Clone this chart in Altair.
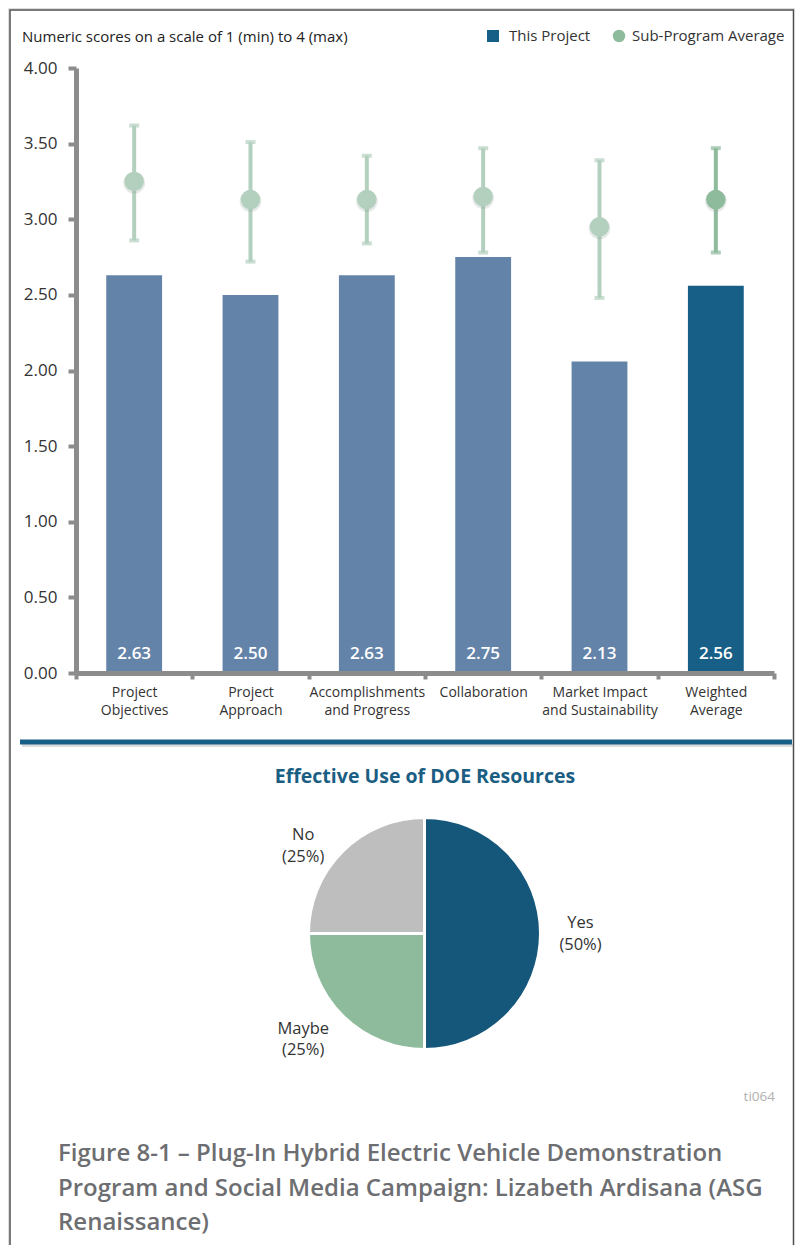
import json
import math
import altair as alt
import pandas as pd

# ---------------- data ----------------
categories = ["Project Objectives", "Project Approach", "Accomplishments and Progress",
              "Collaboration", "Market Impact and Sustainability", "Weighted Average"]
category_tick_labels = [["Project", "Objectives"], ["Project", "Approach"],
                        ["Accomplishments", "and Progress"], ["Collaboration"],
                        ["Market Impact", "and Sustainability"], ["Weighted", "Average"]]
project_scores = [2.63, 2.50, 2.63, 2.75, 2.06, 2.56]
project_score_labels = ["2.63", "2.50", "2.63", "2.75", "2.13", "2.56"]
subprogram_avg = [3.25, 3.13, 3.13, 3.15, 2.95, 3.13]
subprogram_high = [3.62, 3.51, 3.42, 3.47, 3.39, 3.47]
subprogram_low = [2.86, 2.72, 2.84, 2.78, 2.48, 2.78]
y_tick_values = [0, 0.5, 1, 1.5, 2, 2.5, 3, 3.5, 4]

pie_answers = ["Yes", "Maybe", "No"]
pie_shares = [50, 25, 25]

legend_labels = ["This Project", "Sub-Program Average"]
chart_title = "Numeric scores on a scale of 1 (min) to 4 (max)"
pie_title = "Effective Use of DOE Resources"
code_label = "ti064"
caption_lines = ["Figure 8-1 \u2013 Plug-In Hybrid Electric Vehicle Demonstration",
                 "Program and Social Media Campaign: Lizabeth Ardisana (ASG",
                 "Renaissance)"]

# ---------------- layout / style ----------------
W, H = 787, 1237
X_LEFT, X_RIGHT = 68, 766
Y_ZERO, Y_TOP = 665, 60
PIE_CX, PIE_CY, PIE_R = 416.5, 925.5, 116

C_BAR = "#6483A9"
C_BAR_DARK = "#175F86"
C_PT = "#B3D0BF"
C_PT_DARK = "#8DBB9B"
C_AXIS = "#8c8c8c"
FONT = "Open Sans"

cat_df = pd.DataFrame({
    "category": categories,
    "score": project_scores,
    "score_label": project_score_labels,
    "avg": subprogram_avg,
    "high": subprogram_high,
    "low": subprogram_low,
})
pie_df = pd.DataFrame({"answer": pie_answers, "share": pie_shares})
one = pd.DataFrame({"k": [0]})

label_expr = f"{json.dumps(category_tick_labels)}[indexof({json.dumps(categories)}, datum.label)]"

xs = alt.Scale(domain=categories, range=[X_LEFT, X_RIGHT], paddingInner=0, paddingOuter=0)
ys = alt.Scale(domain=[0, 4], range=[Y_ZERO, Y_TOP], nice=False)

x_axis = alt.Axis(title=None, offset=-(H - Y_ZERO), tickBand="extent", labelExpr=label_expr,
                  labelAngle=0, labelFontSize=14, labelLineHeight=18, labelColor="#333333",
                  labelPadding=6, labelLimit=250, labelOverlap=False, domainColor=C_AXIS,
                  domainWidth=5, tickColor=C_AXIS, tickWidth=4, tickSize=6, grid=False, zindex=1)
y_axis = alt.Axis(title=None, offset=-X_LEFT, values=y_tick_values, format=".2f",
                  labelFontSize=17, labelColor="#333333", labelPadding=11, domainColor=C_AXIS,
                  domainWidth=5, tickColor=C_AXIS, tickWidth=4, tickSize=8, grid=False, zindex=1)

X = alt.X("category:N", scale=xs, axis=x_axis, sort=categories)
is_wavg = alt.datum.category == "Weighted Average"

base = alt.Chart(cat_df)

bars = base.mark_bar(width=alt.RelativeBandSize(0.48)).encode(
    x=X, y=alt.Y("score:Q", scale=ys, axis=y_axis),
    color=alt.condition(is_wavg, alt.value(C_BAR_DARK), alt.value(C_BAR)),
)
value_labels = base.mark_text(color="white", fontSize=17, fontWeight=600, dy=-19,
                              baseline="middle").encode(
    x=X, y=alt.Y(datum=0, scale=ys, axis=y_axis), text="score_label:N")

err = base.mark_rule(strokeWidth=4).encode(
    x=X, y=alt.Y("low:Q", scale=ys, axis=y_axis), y2="high:Q",
    color=alt.condition(is_wavg, alt.value(C_PT_DARK), alt.value(C_PT)))
cap_lo = base.mark_tick(size=10, thickness=4).encode(
    x=X, y=alt.Y("low:Q", scale=ys, axis=y_axis),
    color=alt.condition(is_wavg, alt.value(C_PT_DARK), alt.value(C_PT)))
cap_hi = base.mark_tick(size=10, thickness=4).encode(
    x=X, y=alt.Y("high:Q", scale=ys, axis=y_axis),
    color=alt.condition(is_wavg, alt.value(C_PT_DARK), alt.value(C_PT)))
pt_shadow = base.mark_circle(size=470, color="#8a9a90", opacity=0.22, yOffset=1.5).encode(
    x=X, y=alt.Y("avg:Q", scale=ys, axis=y_axis))
points = base.mark_circle(size=380, opacity=1).encode(
    x=X, y=alt.Y("avg:Q", scale=ys, axis=y_axis),
    color=alt.condition(is_wavg, alt.value(C_PT_DARK), alt.value(C_PT)))

# ---------------- annotations ----------------
border = alt.Chart(one).mark_rect(fillOpacity=0, stroke="#4d4d4d", strokeWidth=1.5).encode(
    x=alt.value(2), x2=alt.value(785.5), y=alt.value(2), y2=alt.value(H + 30))

title = alt.Chart(pd.DataFrame({"t": [chart_title]})).mark_text(
    align="left", baseline="middle", fontSize=15, color="#222222").encode(
    text="t:N", x=alt.value(14), y=alt.value(29))

legend_df = pd.DataFrame({"label": legend_labels})
leg_sq = alt.Chart(legend_df).transform_filter(alt.datum.label == legend_labels[0]).mark_square(
    size=144, color=C_BAR_DARK, opacity=1).encode(x=alt.value(485), y=alt.value(28))
leg_sq_t = alt.Chart(legend_df).transform_filter(alt.datum.label == legend_labels[0]).mark_text(
    align="left", baseline="middle", fontSize=15, color="#333333").encode(
    text="label:N", x=alt.value(501), y=alt.value(28))
leg_ci = alt.Chart(legend_df).transform_filter(alt.datum.label == legend_labels[1]).mark_circle(
    size=154, color=C_PT_DARK, opacity=1).encode(x=alt.value(611), y=alt.value(28))
leg_ci_t = alt.Chart(legend_df).transform_filter(alt.datum.label == legend_labels[1]).mark_text(
    align="left", baseline="middle", fontSize=15, color="#333333").encode(
    text="label:N", x=alt.value(624), y=alt.value(28))

sep_shadow = alt.Chart(one).mark_rule(color="#9a9a9a", opacity=0.35, strokeWidth=3).encode(
    x=alt.value(14), x2=alt.value(785), y=alt.value(737.5))
sep = alt.Chart(one).mark_rule(color=C_BAR_DARK, strokeWidth=5).encode(
    x=alt.value(12), x2=alt.value(784), y=alt.value(734))

# ---------------- pie ----------------
theta_scale = alt.Scale(domain=[0, 100])
pie_base = alt.Chart(pie_df).transform_window(idx="row_number()")

pie_shadow = alt.Chart(one).mark_circle(size=math.pi * 119.5 ** 2, color="#cfcfcf",
                                        opacity=0.6, yOffset=1).encode(
    x=alt.value(PIE_CX), y=alt.value(PIE_CY))
pie = pie_base.mark_arc(radius=PIE_R, stroke="white", strokeWidth=3).encode(
    theta=alt.Theta("share:Q", stack=True, scale=theta_scale),
    order=alt.Order("idx:Q"),
    color=alt.Color("answer:N", scale=alt.Scale(domain=pie_answers,
                                                range=["#14577B", "#8DBB9B", "#BEBEBE"]),
                    legend=None),
    x=alt.value(PIE_CX), y=alt.value(PIE_CY))

pie_text_base = pie_base.transform_stack(
    stack="share", groupby=[], as_=["t0", "t1"], sort=[alt.SortField("idx")]
).transform_calculate(
    mid="(datum.t0 + datum.t1) / 2",
    lbl="datum.answer + '\\n(' + datum.share + '%)'",
)
label_offsets = {"Yes": (0, -10.5), "Maybe": (-11, -15), "No": (-11, 12)}
pie_labels = []
for ans in pie_answers:
    ddx, ddy = label_offsets[ans]
    pie_labels.append(
        pie_text_base.transform_filter(alt.datum.answer == ans).mark_text(
            radius=156, dx=ddx, dy=ddy, fontSize=16.5, color="#333333", lineBreak="\n",
            lineHeight=21.5, align="center", baseline="middle").encode(
            theta=alt.Theta("mid:Q", stack=None, scale=theta_scale), text="lbl:N",
            x=alt.value(PIE_CX), y=alt.value(PIE_CY)))

pie_t = alt.Chart(pd.DataFrame({"t": [pie_title]})).mark_text(
    align="center", baseline="middle", fontSize=19.5, fontWeight="bold", color="#1B5E83").encode(
    text="t:N", x=alt.value(417), y=alt.value(769))

code_t = alt.Chart(pd.DataFrame({"t": [code_label]})).mark_text(
    align="right", baseline="middle", fontSize=13.5, color="#b0b0b0").encode(
    text="t:N", x=alt.value(767), y=alt.value(1089))

caption = alt.Chart(pd.DataFrame({"t": ["\n".join(caption_lines)]})).mark_text(
    align="left", baseline="middle", fontSize=24, fontWeight=600, color="#6d6e71",
    lineBreak="\n", lineHeight=34.5).encode(
    text="t:N", x=alt.value(50), y=alt.value(1146))

chart = alt.layer(
    border, title, leg_sq, leg_sq_t, leg_ci, leg_ci_t,
    bars, value_labels, err, cap_lo, cap_hi, pt_shadow, points,
    sep_shadow, sep, pie_shadow, pie, *pie_labels, pie_t, code_t, caption,
).properties(
    width=W, height=H, autosize=alt.AutoSizeParams(type="none"), padding=0,
).configure_view(stroke=None).configure(font=FONT)

chart.save("out.html", embed_options={"renderer": "svg", "actions": False})
